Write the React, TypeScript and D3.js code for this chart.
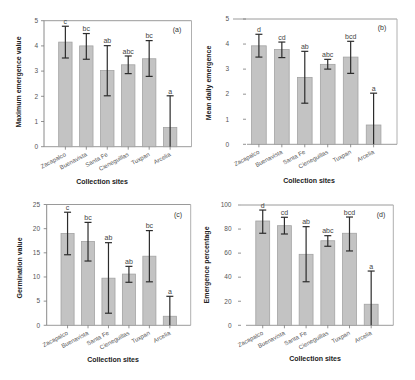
import React from "react";
import * as d3 from "d3";

const sites = ["Zacapalco", "Buenavista", "Santa Fe", "Cieneguillas", "Tuxpan", "Arcelia"];

const maxEmergence = [4.15, 4.0, 3.02, 3.25, 3.49, 0.76];
const maxEmergenceHi = [4.78, 4.49, 4.01, 3.6, 4.21, 2.02];
const maxEmergenceLo = [3.52, 3.47, 2.02, 2.9, 2.79, -0.5];
const maxEmergenceLetters = ["c", "bc", "ab", "abc", "bc", "a"];

const meanDaily = [3.93, 3.78, 2.67, 3.19, 3.48, 0.77];
const meanDailyHi = [4.39, 4.08, 3.71, 3.39, 4.11, 2.04];
const meanDailyLo = [3.48, 3.46, 1.64, 3.0, 2.83, -0.5];
const meanDailyLetters = ["d", "cd", "ab", "abc", "bcd", "a"];

const germination = [19.0, 17.35, 9.75, 10.6, 14.3, 1.87];
const germinationHi = [23.4, 21.3, 17.1, 12.2, 19.6, 6.0];
const germinationLo = [14.6, 13.3, 2.5, 8.9, 9.0, -2.2];
const germinationLetters = ["c", "bc", "ab", "ab", "bc", "a"];

const emergencePct = [86.7, 82.8, 59.0, 70.3, 76.5, 17.5];
const emergencePctHi = [95.8, 89.8, 82.0, 74.5, 90.0, 45.1];
const emergencePctLo = [76.5, 75.9, 36.2, 65.7, 61.8, -10];
const emergencePctLetters = ["d", "cd", "ab", "abc", "bcd", "a"];

const ticksAB = [0, 1, 2, 3, 4, 5];
const ticksC = [0, 5, 10, 15, 20, 25];
const ticksD = [0, 20, 40, 60, 80, 100];

const xTitle = "Collection sites";

type Layout = {
  left: number; right: number; top: number; bottom: number;
  tickX: number; labelX: number; axisLine: boolean; frameStart: number; baseStart: number;
  yTitleX: number; yTitleY: number; xTitleX: number; xTitleY: number; tagX: number; tagY: number;
};

const FONT = "'Liberation Sans', Arial, sans-serif";

function Panel(props: {
  values: number[]; hi: number[]; lo: number[]; letters: string[]; ticks: number[];
  yTitle: string; tag: string; L: Layout;
}) {
  const { values, hi, lo, letters, ticks, yTitle, tag, L } = props;
  const x = d3.scaleBand<string>().domain(sites).range([L.left, L.right]).paddingInner(0.36).paddingOuter(0.7);
  const y = d3.scaleLinear().domain([0, ticks[ticks.length - 1]]).range([L.bottom, L.top]);
  const bw = x.bandwidth();
  const cap = 3.5;
  return (
    <g>
      {/* frame */}
      <line x1={L.frameStart} x2={L.right} y1={L.top} y2={L.top} stroke="#9a9a9a" strokeWidth={1} />
      <line x1={L.right} x2={L.right} y1={L.top} y2={L.bottom} stroke="#b0b0b0" strokeWidth={1} />
      <line x1={L.baseStart} x2={L.right} y1={L.bottom} y2={L.bottom} stroke="#9a9a9a" strokeWidth={1} />
      {L.axisLine && <line x1={L.left} x2={L.left} y1={L.top} y2={L.bottom} stroke="#8a8a8a" strokeWidth={1} />}
      {/* y ticks */}
      {ticks.map((t) => (
        <g key={t}>
          <line x1={L.tickX - 3} x2={L.tickX} y1={y(t)} y2={y(t)} stroke="#777" strokeWidth={0.8} />
          <text x={L.labelX} y={y(t)} dy="0.35em" textAnchor="end" fontSize={6.5} fill="#555" fontFamily={FONT}>{t}</text>
        </g>
      ))}
      {/* bars */}
      {sites.map((s, i) => {
        const cx = (x(s) as number) + bw / 2;
        const yTop = y(hi[i]);
        const yLo = y(Math.max(0, lo[i]));
        return (
          <g key={s}>
            <rect x={x(s)} y={y(values[i])} width={bw} height={y(0) - y(values[i])} fill="#c3c3c3" stroke="#a3a3a3" strokeWidth={0.8} />
            <line x1={cx} x2={cx} y1={yTop} y2={yLo} stroke="#2c2c2c" strokeWidth={1.2} />
            <line x1={cx - cap} x2={cx + cap} y1={yTop} y2={yTop} stroke="#2c2c2c" strokeWidth={1.2} />
            {lo[i] > 0 && <line x1={cx - cap} x2={cx + cap} y1={yLo} y2={yLo} stroke="#2c2c2c" strokeWidth={1.2} />}
            <line x1={cx} x2={cx} y1={L.bottom} y2={L.bottom + 3} stroke="#777" strokeWidth={0.8} />
            <text x={cx} y={yTop - 2.2} textAnchor="middle" fontSize={7} fill="#444" fontFamily={FONT}>{letters[i]}</text>
            <text transform={`translate(${cx + 1},${L.bottom + 9}) rotate(-28)`} textAnchor="end" fontSize={6} fill="#555" fontFamily={FONT}>{s}</text>
          </g>
        );
      })}
      <text x={L.tagX} y={L.tagY} textAnchor="middle" fontSize={7} fill="#333" fontFamily={FONT}>{tag}</text>
      <text transform={`translate(${L.yTitleX},${L.yTitleY}) rotate(-90)`} textAnchor="middle" fontSize={7} fontWeight="bold" fill="#222" fontFamily={FONT}>{yTitle}</text>
      <text x={L.xTitleX} y={L.xTitleY} textAnchor="middle" fontSize={7} fontWeight="bold" fill="#222" fontFamily={FONT}>{xTitle}</text>
    </g>
  );
}

const layoutA: Layout = { left: 44, right: 191.5, top: 20.7, bottom: 146.7, tickX: 44, labelX: 38, axisLine: true, frameStart: 44, baseStart: 44, yTitleX: 21, yTitleY: 82, xTitleX: 102, xTitleY: 184, tagX: 177, tagY: 32 };
const layoutB: Layout = { left: 235.5, right: 397, top: 19, bottom: 144.3, tickX: 246, labelX: 229, axisLine: false, frameStart: 233, baseStart: 247, yTitleX: 211, yTitleY: 83, xTitleX: 309, xTitleY: 183, tagX: 382, tagY: 30 };
const layoutC: Layout = { left: 46.7, right: 190.7, top: 204.5, bottom: 325.3, tickX: 46.7, labelX: 40, axisLine: true, frameStart: 46.7, baseStart: 46.7, yTitleX: 21.7, yTitleY: 268, xTitleX: 113, xTitleY: 362, tagX: 178, tagY: 217 };
const layoutD: Layout = { left: 240.6, right: 393.3, top: 205, bottom: 325.3, tickX: 241, labelX: 231.5, axisLine: false, frameStart: 241, baseStart: 246, yTitleX: 209, yTitleY: 265, xTitleX: 315, xTitleY: 361, tagX: 381, tagY: 217 };

export default function App() {
  return (
    <svg width={415} height={380} style={{ position: "absolute", left: 0, top: 0, background: "#fff" }}>
      <rect width={415} height={380} fill="#fff" />
      <Panel values={maxEmergence} hi={maxEmergenceHi} lo={maxEmergenceLo} letters={maxEmergenceLetters} ticks={ticksAB} yTitle="Maximum emergence value" tag="(a)" L={layoutA} />
      <Panel values={meanDaily} hi={meanDailyHi} lo={meanDailyLo} letters={meanDailyLetters} ticks={ticksAB} yTitle="Mean daily emergence" tag="(b)" L={layoutB} />
      <Panel values={germination} hi={germinationHi} lo={germinationLo} letters={germinationLetters} ticks={ticksC} yTitle="Germination value" tag="(c)" L={layoutC} />
      <Panel values={emergencePct} hi={emergencePctHi} lo={emergencePctLo} letters={emergencePctLetters} ticks={ticksD} yTitle="Emergence percentage" tag="(d)" L={layoutD} />
    </svg>
  );
}
